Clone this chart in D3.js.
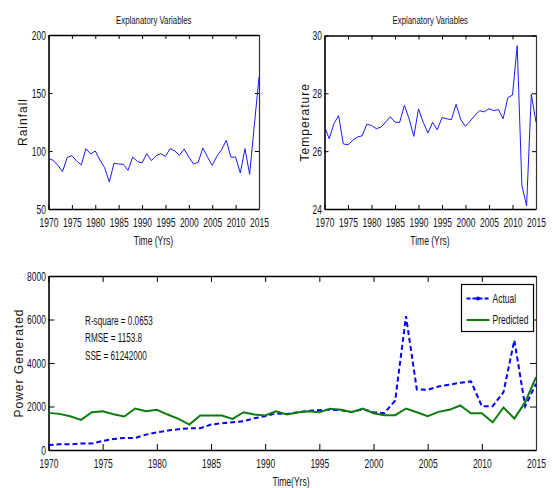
<!DOCTYPE html>
<html>
<head>
<meta charset="utf-8">
<script src="https://cdn.jsdelivr.net/npm/d3@7"></script>
<style>
  body { margin: 0; background: #fff; }
  svg { display: block; }
  .tick-label { font-family: "Liberation Sans", Arial, sans-serif; font-size: 12.5px; fill: #111; }
  .ylab { font-family: "Liberation Sans", Arial, sans-serif; font-size: 12px; letter-spacing: 1px; fill: #111; }
</style>
</head>
<body>
<script>
// data
const years = d3.range(1970, 2016);
const rainfall = [93.4, 92, 87.6, 82.2, 94.5, 96, 91.4, 88, 102, 97.4,
  100, 92.2, 85.6, 73.3, 89.4, 88.8, 88.5, 83.3, 94.8, 91,
  89.7, 97.7, 91.7, 96, 97.7, 95.4, 102, 100, 96.3, 101.7,
  94.8, 88.8, 90.2, 102.6, 94.8, 87.6, 95.4, 101.1, 109.2, 94.5,
  94.8, 81, 102, 79.9, 122, 163.8];
const temperature = [26.86, 26.43, 26.95, 27.23, 26.25, 26.22, 26.37, 26.49, 26.53, 26.93,
  26.89, 26.78, 26.83, 27.0, 27.19, 27.0, 27.0, 27.59, 27.12, 26.51,
  27.46, 27.0, 26.63, 27.0, 26.74, 27.16, 27.12, 27.09, 27.62, 27.09,
  26.86, 27.04, 27.24, 27.4, 27.36, 27.47, 27.4, 27.44, 27.12, 27.85,
  27.94, 29.65, 24.81, 24.11, 27.97, 27.0];
const actual = [230, 260, 260, 300, 300, 415, 508, 554, 554, 707,
  815, 892, 954, 1000, 1000, 1169, 1230, 1277, 1323, 1461,
  1553, 1680, 1660, 1738, 1800, 1830, 1846, 1830, 1753, 1876,
  1738, 1692, 2276, 6152, 2784, 2768, 2922, 3000, 3092, 3153,
  2015, 2015, 2661, 5045, 2015, 3045];
const predicted = [1707, 1661, 1553, 1384, 1738, 1784, 1646, 1538, 1907, 1784,
  1846, 1630, 1430, 1169, 1584, 1584, 1584, 1430, 1738, 1630,
  1584, 1784, 1630, 1723, 1784, 1738, 1892, 1846, 1738, 1907,
  1692, 1600, 1600, 1907, 1738, 1553, 1753, 1846, 2046, 1692,
  1692, 1277, 1953, 1446, 2200, 3353];
const yearTicks = d3.range(1970, 2016, 5);
const rainTicks = [50, 100, 150, 200];
const tempTicks = [24, 26, 28, 30];
const powerTicks = [0, 2000, 4000, 6000, 8000];
const stats = ["R-square = 0.0653", "RMSE = 1153.8", "SSE = 61242000"];
const legendNames = ["Actual", "Predicted"];

const W = 552, H = 488;
const svg = d3.select("body").append("svg").attr("width", W).attr("height", H);

// one matlab-ish panel with a box and inner ticks on all four sides
function panel(o) {
  const x = d3.scaleLinear().domain([1970, 2015]).range([o.l, o.r]);
  const y = d3.scaleLinear().domain(o.ydom).range([o.b, o.t]);
  const g = svg.append("g");

  // bottom axis (ticks inside, labels below)
  const bx = g.append("g").attr("transform", `translate(0,${o.b})`)
    .call(d3.axisBottom(x).tickValues(yearTicks).tickFormat(d3.format("d"))
      .tickSizeInner(-o.tk).tickSizeOuter(0).tickPadding(9));
  // top axis
  const tx = g.append("g").attr("transform", `translate(0,${o.t})`)
    .call(d3.axisTop(x).tickValues(yearTicks).tickFormat("")
      .tickSizeInner(-o.tk).tickSizeOuter(0));
  // left axis
  const ly = g.append("g").attr("transform", `translate(${o.l},0)`)
    .call(d3.axisLeft(y).tickValues(o.yticks).tickFormat(d3.format("d"))
      .tickSizeInner(-o.tk).tickSizeOuter(0).tickPadding(2.5));
  // right axis
  const ry = g.append("g").attr("transform", `translate(${o.r},0)`)
    .call(d3.axisRight(y).tickValues(o.yticks).tickFormat("")
      .tickSizeInner(-o.tk).tickSizeOuter(0));

  [bx, tx, ly, ry].forEach(a => {
    a.select(".domain").attr("stroke", "#000").attr("stroke-width", 1.6);
    a.selectAll(".tick line").attr("stroke", "#000").attr("stroke-width", 1);
    a.selectAll("text").attr("class", "tick-label").attr("font-family", null).attr("font-size", null).attr("fill", null);
  });
  ry.select(".domain").attr("stroke-width", 1.2).attr("stroke", "#333");

  if (o.title) {
    g.append("text").attr("class", "tick-label")
      .attr("x", (o.l + o.r) / 2).attr("y", o.t - 11)
      .attr("text-anchor", "middle").style("font-size", "11.5px")
      .text(o.title);
  }
  g.append("text").attr("class", "tick-label")
    .attr("x", o.xlabX).attr("y", o.xlabY)
    .attr("text-anchor", "middle")
    .text(o.xlab);
  g.append("text").attr("class", "ylab")
    .attr("transform", `translate(${o.ylabX},${(o.t + o.b) / 2}) rotate(-90)`)
    .attr("text-anchor", "middle")
    .text(o.ylab);

  return { x, y, g };
}

// top-left: rainfall
const p1 = panel({ l: 48.5, r: 259, t: 35, b: 209, ydom: [50, 200], yticks: rainTicks, tk: 4,
  title: "Explanatory Variables", xlab: "Time (Yrs)", xlabX: 153.5, xlabY: 245, ylab: "Rainfall", ylabX: 27 });
p1.g.append("path")
  .datum(years.map((d, i) => [d, rainfall[i]]))
  .attr("fill", "none").attr("stroke", "#1a1aff").attr("stroke-width", 1)
  .attr("d", d3.line().x(d => p1.x(d[0])).y(d => p1.y(d[1])));

// top-right: temperature
const p2 = panel({ l: 324.5, r: 536, t: 35.5, b: 209, ydom: [24, 30], yticks: tempTicks, tk: 4,
  title: "Explanatory Variables", xlab: "Time (Yrs)", xlabX: 430, xlabY: 245, ylab: "Temperature", ylabX: 309 });
p2.g.append("path")
  .datum(years.map((d, i) => [d, temperature[i]]))
  .attr("fill", "none").attr("stroke", "#1a1aff").attr("stroke-width", 1)
  .attr("d", d3.line().x(d => p2.x(d[0])).y(d => p2.y(d[1])));

// bottom: power generated
const p3 = panel({ l: 48.5, r: 536, t: 276, b: 450, ydom: [0, 8000], yticks: powerTicks, tk: 6,
  title: null, xlab: "Time(Yrs)", xlabX: 291, xlabY: 486, ylab: "Power Generated", ylabX: 23 });
const line3 = d3.line().x(d => p3.x(d[0])).y(d => p3.y(d[1]));
p3.g.append("path")
  .datum(years.map((d, i) => [d, actual[i]]))
  .attr("fill", "none").attr("stroke", "#0000ff").attr("stroke-width", 2)
  .attr("stroke-dasharray", "5,3")
  .attr("d", line3);
p3.g.append("path")
  .datum(years.map((d, i) => [d, predicted[i]]))
  .attr("fill", "none").attr("stroke", "#0b7d0b").attr("stroke-width", 2)
  .attr("d", line3);

// stats text
p3.g.selectAll(".stat").data(stats).enter().append("text")
  .attr("class", "tick-label").style("font-size", "12px")
  .attr("x", 85).attr("y", (d, i) => 325 + i * 17.5)
  .text(d => d);

// legend
const lg = p3.g.append("g").attr("transform", "translate(461.5,284.5)");
lg.append("rect").attr("width", 72).attr("height", 47)
  .attr("fill", "#fff").attr("stroke", "#000").attr("stroke-width", 1.2);
const legendStyles = [
  { stroke: "#0000ff", dash: "4,2" },
  { stroke: "#0b7d0b", dash: null }
];
legendNames.forEach((name, i) => {
  const yy = 14 + i * 21.5;
  lg.append("line").attr("x1", 5).attr("x2", 28).attr("y1", yy).attr("y2", yy)
    .attr("stroke", legendStyles[i].stroke).attr("stroke-width", 2)
    .attr("stroke-dasharray", legendStyles[i].dash);
  if (i === 0) {
    lg.append("circle").attr("cx", 16.5).attr("cy", yy).attr("r", 2).attr("fill", "#0000ff");
  }
  lg.append("text").attr("class", "tick-label")
    .attr("x", 31).attr("y", yy + 4.5).text(name);
});

// matlab export squeezes the glyphs horizontally: scale each text about its anchor x
const squeeze = 0.68;
svg.selectAll(".tick-label").each(function () {
  const ax = +(d3.select(this).attr("x") || 0);
  d3.select(this).attr("transform", `translate(${ax * (1 - squeeze)},0) scale(${squeeze},1)`);
});
</script>
</body>
</html>
